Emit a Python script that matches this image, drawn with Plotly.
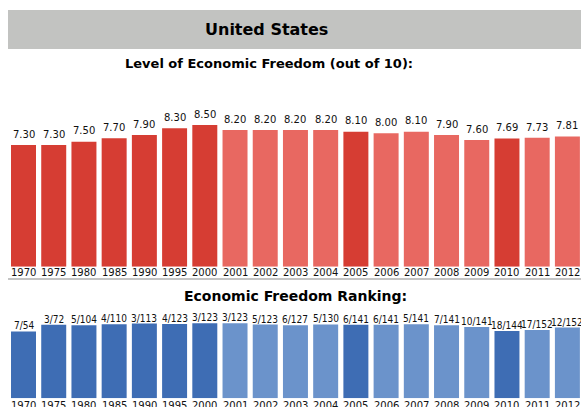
import plotly.graph_objects as go

years = ["1970", "1975", "1980", "1985", "1990", "1995", "2000", "2001", "2002", "2003",
         "2004", "2005", "2006", "2007", "2008", "2009", "2010", "2011", "2012"]
scores = [7.30, 7.30, 7.50, 7.70, 7.90, 8.30, 8.50, 8.20, 8.20, 8.20,
          8.20, 8.10, 8.00, 8.10, 7.90, 7.60, 7.69, 7.73, 7.81]
ranks = [7, 3, 5, 4, 3, 4, 3, 3, 5, 6, 5, 6, 6, 5, 7, 10, 18, 17, 12]
totals = [54, 72, 104, 110, 113, 123, 123, 123, 123, 127, 130, 141, 141, 141, 141, 141, 144, 152, 152]
major = [True, True, True, True, True, True, True, False, False, False,
         False, True, False, False, False, False, True, False, False]

RED_D, RED_L = "#d63d33", "#e86861"
BLUE_D, BLUE_L = "#3e6db4", "#6b93cb"

W, H = 581, 407
def py(px):
    return 1 - px / H

pos = list(range(len(years)))
rank_labels = [f"{r}/{t}" for r, t in zip(ranks, totals)]
rank_share = [1 - r / t for r, t in zip(ranks, totals)]

fig = go.Figure()
fig.add_trace(go.Bar(
    x=pos, y=scores, xaxis="x", yaxis="y",
    marker=dict(color=[RED_D if m else RED_L for m in major], line=dict(width=0)),
    hoverinfo="skip",
))
fig.add_trace(go.Bar(
    x=pos, y=rank_share, xaxis="x2", yaxis="y2",
    marker=dict(color=[BLUE_D if m else BLUE_L for m in major], line=dict(width=0)),
    hoverinfo="skip",
))

xdom = [8.4 / W, 1.0]
xrange = [-0.5, 18.45]
axis_common = dict(type="linear", range=xrange, domain=xdom, showgrid=False,
                   zeroline=False, showline=False, ticks="", showticklabels=False)

YEAR_FONT = dict(family="DejaVu Sans", size=10, color="#111111")

annotations = [
    dict(text="<b>United States</b>", xref="paper", yref="paper", x=266 / W, y=py(29.5),
         xanchor="center", yanchor="middle", showarrow=False,
         font=dict(family="DejaVu Sans", size=16, color="#000000")),
    dict(text="<b>Level of Economic Freedom (out of 10):</b>", xref="paper", yref="paper",
         x=268.5 / W, y=py(64), xanchor="center", yanchor="middle", showarrow=False,
         font=dict(family="DejaVu Sans", size=13, color="#000000")),
    dict(text="<b>Economic Freedom Ranking:</b>", xref="paper", yref="paper",
         x=295 / W, y=py(296), xanchor="center", yanchor="middle", showarrow=False,
         font=dict(family="DejaVu Sans", size=14, color="#000000")),
]
for i, v, yr in zip(pos, scores, years):
    annotations.append(dict(text=f"{v:.2f}", x=i, y=v, xref="x", yref="y",
                            xanchor="center", yanchor="middle", yshift=10.7, showarrow=False,
                            font=dict(family="DejaVu Sans", size=10, color="#111111")))
    annotations.append(dict(text=yr, x=i, y=0, xref="x", yref="y",
                            xanchor="center", yanchor="middle", yshift=-6, showarrow=False,
                            font=YEAR_FONT))
for i, s, lab, yr in zip(pos, rank_share, rank_labels, years):
    annotations.append(dict(text=lab, x=i, y=s, xref="x2", yref="y2",
                            xanchor="center", yanchor="middle", yshift=5.5, showarrow=False,
                            font=dict(family="DejaVu Sans Condensed, DejaVu Sans", size=10,
                                      color="#111111")))
    annotations.append(dict(text=yr, x=i, y=0, xref="x2", yref="y2",
                            xanchor="center", yanchor="middle", yshift=-7, showarrow=False,
                            font=YEAR_FONT))

fig.update_layout(
    width=W, height=H, margin=dict(l=0, r=0, t=0, b=0),
    paper_bgcolor="white", plot_bgcolor="white",
    showlegend=False, bargap=0.173,
    xaxis=dict(anchor="y", **axis_common),
    yaxis=dict(domain=[py(266.7), py(100)], range=[0, 10], visible=False, fixedrange=True),
    xaxis2=dict(anchor="y2", **axis_common),
    yaxis2=dict(domain=[py(398.3), py(321.5)], range=[0, 1], visible=False, fixedrange=True),
    font=dict(family="DejaVu Sans", color="#000000"),
    shapes=[
        dict(type="rect", xref="paper", yref="paper", x0=8 / W, x1=1.0, y0=py(49), y1=py(10),
             fillcolor="#c2c3c1", line=dict(width=0), layer="below"),
        dict(type="line", xref="paper", yref="paper", x0=8 / W, x1=1.0, y0=py(279), y1=py(279),
             line=dict(color="#c4c4c4", width=2)),
    ],
    annotations=annotations,
)

fig.write_html("out.html", config={"displayModeBar": False})

with open("out.html", "r", encoding="utf-8") as f:
    html = f.read()
html = html.replace("<head>", "<head><style>html,body{margin:0;padding:0;overflow:hidden;}</style>", 1)
with open("out.html", "w", encoding="utf-8") as f:
    f.write(html)
